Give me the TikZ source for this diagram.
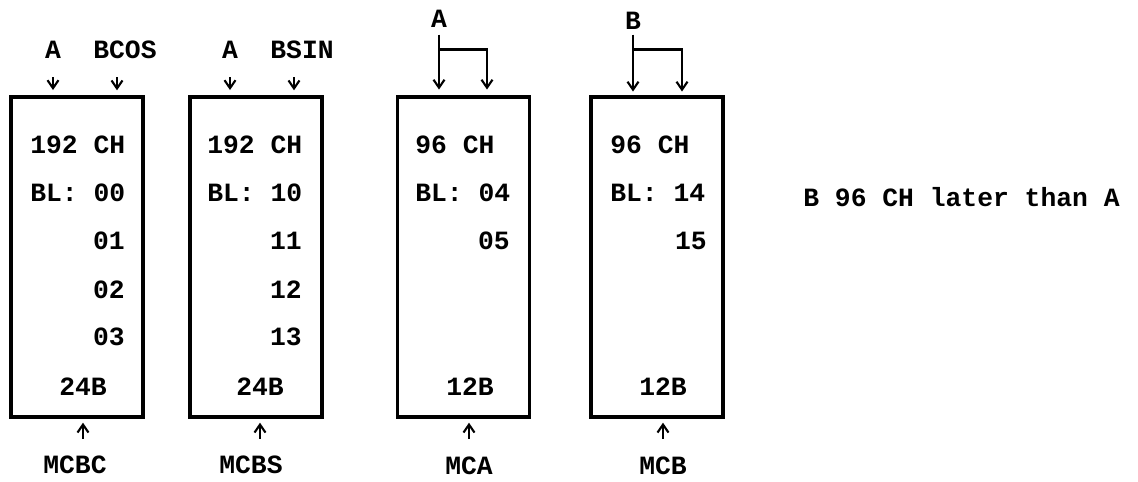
\documentclass[tikz,border=0pt]{standalone}
\usepackage{fontspec}
\setmonofont{Liberation Mono}
\usetikzlibrary{arrows.meta}
\tikzset{
  memblock/.style={draw, line width=1.8pt, minimum width=2.64cm, minimum height=6.4cm, inner sep=0pt},
  txt/.style={font=\ttfamily\bfseries\fontsize{15}{18}\selectfont, inner sep=0pt},
  ptr/.style={line width=1.2pt, -{Straight Barb[length=0.16cm,width=0.22cm]}},
}
\begin{document}
\begin{tikzpicture}[x=0.02cm,y=-0.02cm]
\useasboundingbox (0,0) rectangle (1138,481);

% Drawing block MCBC
\node[memblock] (bxc) at (77,257) {};
\node[txt] (ac) at (53,50) {A};
\node[txt] (bcos) at (125,50) {BCOS};
\draw[ptr] (ac.south) ++(0,18) -- ++(0,13);
\draw[ptr] (bcos.south) ++(-8,18) -- ++(0,13);
\node[txt, anchor=west] (c1) at (30,145) {192 CH};
\node[txt, anchor=west] (c2) at (30,193) {BL: 00};
\node[txt, anchor=east] (c3) at (125,241) {01};
\node[txt, anchor=east] (c4) at (125,290) {02};
\node[txt, anchor=east] (c5) at (125,337) {03};
\node[txt] (c6) at (83,387) {24B};
\node[txt] (mcbc) at (75,465) {MCBC};
\draw[ptr] (mcbc.north) ++(8,-17) -- ++(0,-16);

% Drawing block MCBS
\node[memblock] (bxs) at (256,257) {};
\node[txt] (as) at (230,50) {A};
\node[txt] (bsin) at (302,50) {BSIN};
\draw[ptr] (as.south) ++(0,18) -- ++(0,13);
\draw[ptr] (bsin.south) ++(-8,18) -- ++(0,13);
\node[txt, anchor=west] (s1) at (207,145) {192 CH};
\node[txt, anchor=west] (s2) at (207,193) {BL: 10};
\node[txt, anchor=east] (s3) at (302,241) {11};
\node[txt, anchor=east] (s4) at (302,290) {12};
\node[txt, anchor=east] (s5) at (302,337) {13};
\node[txt] (s6) at (260,387) {24B};
\node[txt] (mcbs) at (251,465) {MCBS};
\draw[ptr] (mcbs.north) ++(9,-17) -- ++(0,-16);

% Drawing block MCA
\node[memblock] (bxa) at (463.5,257) {};
\node[txt] (aa) at (439,19) {A};
\draw[ptr] (aa.south) ++(0,6.5) -- ++(0,55);
\draw[ptr] (aa.south) ++(0,21.5) -| ++(48,40);
\node[txt, anchor=west] (a1) at (415,145) {96 CH};
\node[txt, anchor=west] (a2) at (415,193) {BL: 04};
\node[txt, anchor=east] (a3) at (510,241) {05};
\node[txt] (a6) at (470,387) {12B};
\node[txt] (mca) at (469,466) {MCA};
\draw[ptr] (mca.north) ++(0,-18) -- ++(0,-16);

% Drawing block MCB
\node[memblock] (bxb) at (657,257) {};
\node[txt] (bb) at (633,21) {B};
\draw[ptr] (bb.south) ++(0,4.5) -- ++(0,57);
\draw[ptr] (bb.south) ++(0,19.5) -| ++(49,42);
\node[txt, anchor=west] (b1) at (610,145) {96 CH};
\node[txt, anchor=west] (b2) at (610,193) {BL: 14};
\node[txt, anchor=east] (b3) at (707,241) {15};
\node[txt] (b6) at (663,387) {12B};
\node[txt] (mcb) at (663,466) {MCB};
\draw[ptr] (mcb.north) ++(0,-18) -- ++(0,-16);

% Marking note
\node[txt, anchor=west] (note) at (803,197) {B 96 CH later than A};
\end{tikzpicture}
\end{document}
